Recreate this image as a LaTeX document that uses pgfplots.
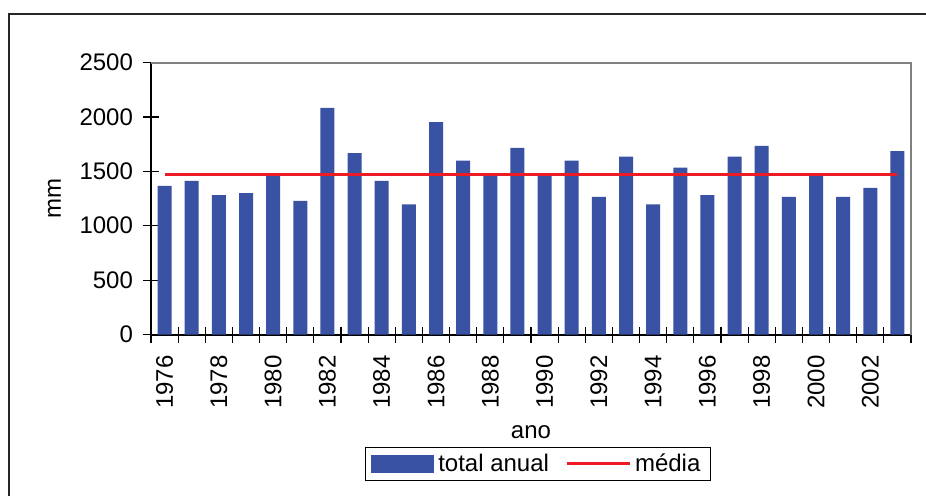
\documentclass[border=0pt]{standalone}
\usepackage{pgfplots}
\pgfplotsset{compat=1.18}
\usepackage{fontspec}
\setmainfont{Liberation Sans}
\definecolor{barblue}{RGB}{57,82,163}
\definecolor{meanred}{RGB}{237,28,36}
\definecolor{framegray}{RGB}{128,128,128}
\newcommand{\chartfont}{\fontsize{12}{14}\selectfont}
\begin{document}
\begin{tikzpicture}
\useasboundingbox (0,0) rectangle (463pt,247.5pt);
\draw[line width=1pt, black!85] (4.5pt,-2pt) -- (4.5pt,240.5pt) -- (470pt,240.5pt);
\begin{axis}[
  at={(75.5pt,80.25pt)}, anchor=south west,
  scale only axis, width=380pt, height=136pt,
  xmin=-0.5, xmax=27.5, ymin=0, ymax=2500,
  separate axis lines,
  axis x line*=bottom, axis y line*=left,
  axis line style={black, line width=1pt},
  clip=false,
  ytick={0,500,...,2500},
  xtick={0,2,...,26},
  xticklabels={1976,1978,1980,1982,1984,1986,1988,1990,1992,1994,1996,1998,2000,2002},
  minor xtick={-0.5,0.5,...,27.5},
  tick align=center,
  major tick length=8pt, minor tick length=8pt,
  tick style={black, line width=0.6pt},
  major x tick style={draw=none},
  /pgf/number format/1000 sep={},
  /pgf/number format/assume math mode=true,
  tick label style={font=\chartfont},
  xticklabel style={rotate=90, anchor=east, xshift=-3pt},
  yticklabel style={xshift=-1.5pt},
  xlabel={ano}, ylabel={mm},
  every axis x label/.style={at={(axis description cs:0.5,-0.358)}, anchor=center, font=\chartfont},
  every axis y label/.style={at={(axis description cs:-0.127,0.5)}, rotate=90, anchor=center, font=\chartfont},
  legend style={at={(axis description cs:0.509,-0.476)}, anchor=center,
    draw=black, line width=0.6pt, font=\chartfont, inner xsep=3pt, inner ysep=1pt,
    /tikz/every even column/.append style={column sep=6pt}},
  legend columns=2,
]
\addplot[ybar, bar width=7pt, fill=barblue, draw=none,
  legend image code/.code={\fill[barblue] (0pt,-4.5pt) rectangle (31.5pt,4.5pt);}]
  coordinates {
  (0,1366) (1,1412) (2,1280) (3,1299) (4,1470) (5,1228) (6,2083) (7,1666)
  (8,1412) (9,1197) (10,1951) (11,1599) (12,1464) (13,1715) (14,1460) (15,1599)
  (16,1265) (17,1636) (18,1197) (19,1535) (20,1280) (21,1636) (22,1733) (23,1265)
  (24,1460) (25,1265) (26,1347) (27,1685)};
\addlegendentry{total anual}
\addplot[meanred, line width=1.5pt,
  legend image code/.code={\draw[meanred, line width=1.5pt] (0pt,0pt) -- (31.5pt,0pt);}]
  coordinates {(0,1470) (27,1470)};
\addlegendentry{média}
\draw[framegray, line width=1pt] (rel axis cs:0,1) -- (rel axis cs:1,1) -- (rel axis cs:1,0);
\end{axis}
\end{tikzpicture}
\end{document}
